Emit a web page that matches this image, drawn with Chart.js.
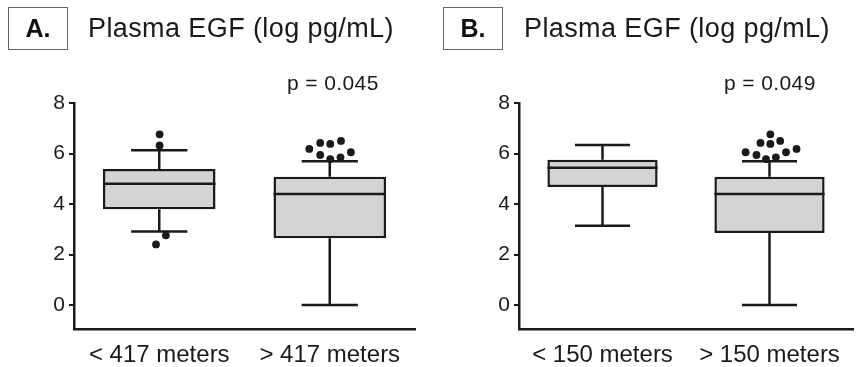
<!DOCTYPE html>
<html lang="en">
<head>
<meta charset="UTF-8">
<title>Plasma EGF</title>
<style>
  body { margin: 0; background: #fff; font-family: "Liberation Sans", Arial, sans-serif; }
  #wrap { position: relative; width: 857px; height: 367px; overflow: hidden; }
  canvas { position: absolute; top: 0; }
  .tag { position: absolute; top: 7px; width: 58px; height: 41px; border: 1px solid #666;
         font-weight: bold; font-size: 25px; line-height: 41px; text-align: center; color: #111; }
  .ttl { position: absolute; top: 15px; font-size: 27px; letter-spacing: 0.4px; line-height: 1; color: #1a1a1a; white-space: nowrap; }
  .pv  { position: absolute; top: 72px; font-size: 21px; letter-spacing: 0.4px; line-height: 1; color: #1a1a1a; white-space: nowrap; }
</style>
</head>
<body>
<div id="wrap">
  <canvas id="chartA" width="430" height="367" style="left:0"></canvas>
  <canvas id="chartB" width="427" height="367" style="left:430px"></canvas>
  <div class="tag" style="left:8px">A.</div>
  <div class="ttl" style="left:88px">Plasma EGF (log pg/mL)</div>
  <div class="pv" style="left:287px">p = 0.045</div>
  <div class="tag" style="left:443px">B.</div>
  <div class="ttl" style="left:524px">Plasma EGF (log pg/mL)</div>
  <div class="pv" style="left:724px">p = 0.049</div>
</div>

<script src="https://cdn.jsdelivr.net/npm/chart.js"></script>
<script>
// panel A
const catsA = ['< 417 meters', '> 417 meters'];
const minA = [2.91, 0.0];
const q1A = [3.79, 2.64];
const medA = [4.80, 4.40];
const q3A = [5.39, 5.08];
const maxA = [6.13, 5.69];
const outGroupA = [0, 0, 0, 0, 1, 1, 1, 1, 1, 1, 1, 1];
const outJitterA = [0.002, 0.002, 0.039, -0.019, -0.12, -0.056, 0.003, 0.066, -0.056, 0.003, 0.063, 0.124];
const outValueA = [6.76, 6.32, 2.76, 2.40, 6.18, 6.42, 6.38, 6.50, 5.94, 5.78, 5.85, 6.05];

// panel B
const catsB = ['< 150 meters', '> 150 meters'];
const minB = [3.14, 0.0];
const q1B = [4.67, 2.85];
const medB = [5.44, 4.40];
const q3B = [5.75, 5.08];
const maxB = [6.34, 5.69];
const outGroupB = [1, 1, 1, 1, 1, 1, 1, 1, 1, 1];
const outJitterB = [-0.143, -0.078, -0.021, 0.038, 0.099, 0.162, -0.054, 0.005, 0.064, 0.005];
const outValueB = [6.05, 5.94, 5.78, 5.85, 6.05, 6.18, 6.42, 6.38, 6.50, 6.76];

const yTicks = [0, 2, 4, 6, 8];

const INK = '#1a1a1a';
const FILL = '#d4d4d4';
const CAP = 0.165;   // half width of whisker caps (x units)
const HALF = 0.33;   // half width of the box (x units)

// whiskers, caps and medians as one broken line
function segments(mins, q1s, meds, q3s, maxs) {
    const pts = [];
    const seg = (x1, y1, x2, y2) => pts.push({x: x1, y: y1}, {x: x2, y: y2}, {x: x2, y: null});
    for (let i = 0; i < mins.length; i++) {
        seg(i, q3s[i], i, maxs[i]);
        seg(i, q1s[i], i, mins[i]);
        seg(i - CAP, maxs[i], i + CAP, maxs[i]);
        seg(i - CAP, mins[i], i + CAP, mins[i]);
        seg(i - HALF, meds[i], i + HALF, meds[i]);
    }
    return pts;
}

function makePanel(id, cats, mins, q1s, meds, q3s, maxs, oGroup, oJitter, oValue, yWidth, padRight) {
    new Chart(document.getElementById(id), {
        type: 'bar',
        data: {
            datasets: [{
                type: 'scatter',
                data: oValue.map((v, i) => ({x: oGroup[i] + oJitter[i], y: v})),
                pointRadius: 3.9,
                pointBackgroundColor: INK,
                pointBorderWidth: 0,
                order: 0
            }, {
                type: 'line',
                data: segments(mins, q1s, meds, q3s, maxs),
                borderColor: INK,
                borderWidth: 2.5,
                pointRadius: 0,
                spanGaps: false,
                order: 1
            }, {
                type: 'bar',
                data: cats.map((c, i) => ({x: i, y: [q1s[i], q3s[i]]})),
                backgroundColor: FILL,
                borderColor: INK,
                borderWidth: 2.5,
                borderSkipped: false,
                categoryPercentage: 1,
                barPercentage: 0.66,
                order: 2
            }]
        },
        options: {
            responsive: false,
            animation: false,
            layout: { padding: { top: 103, right: padRight, left: 0, bottom: 0 } },
            plugins: { legend: { display: false }, tooltip: { enabled: false } },
            scales: {
                x: {
                    type: 'linear',
                    min: -0.5,
                    max: 1.5,
                    offset: false,
                    afterBuildTicks: s => { s.ticks = cats.map((c, i) => ({value: i})); },
                    afterFit: s => { s.height = 38; },
                    grid: { display: false, drawTicks: false, offset: false },
                    border: { color: INK, width: 2.5 },
                    ticks: {
                        callback: v => cats[v],
                        autoSkip: false,
                        maxRotation: 0,
                        padding: 12,
                        color: INK,
                        font: { family: 'Liberation Sans', size: 24 }
                    }
                },
                y: {
                    min: -0.95,
                    max: 8,
                    afterBuildTicks: s => { s.ticks = yTicks.map(v => ({value: v})); },
                    afterFit: s => { s.width = yWidth; },
                    grid: { drawOnChartArea: false, drawTicks: true, tickLength: 5, color: INK, lineWidth: 2 },
                    border: { color: INK, width: 2.5 },
                    ticks: {
                        padding: 4,
                        color: INK,
                        font: { family: 'Liberation Sans', size: 21 }
                    }
                }
            }
        }
    });
}

makePanel('chartA', catsA, minA, q1A, medA, q3A, maxA, outGroupA, outJitterA, outValueA, 74, 15);
makePanel('chartB', catsB, minB, q1B, medB, q3B, maxB, outGroupB, outJitterB, outValueB, 89, 0);
</script>
</body>
</html>
